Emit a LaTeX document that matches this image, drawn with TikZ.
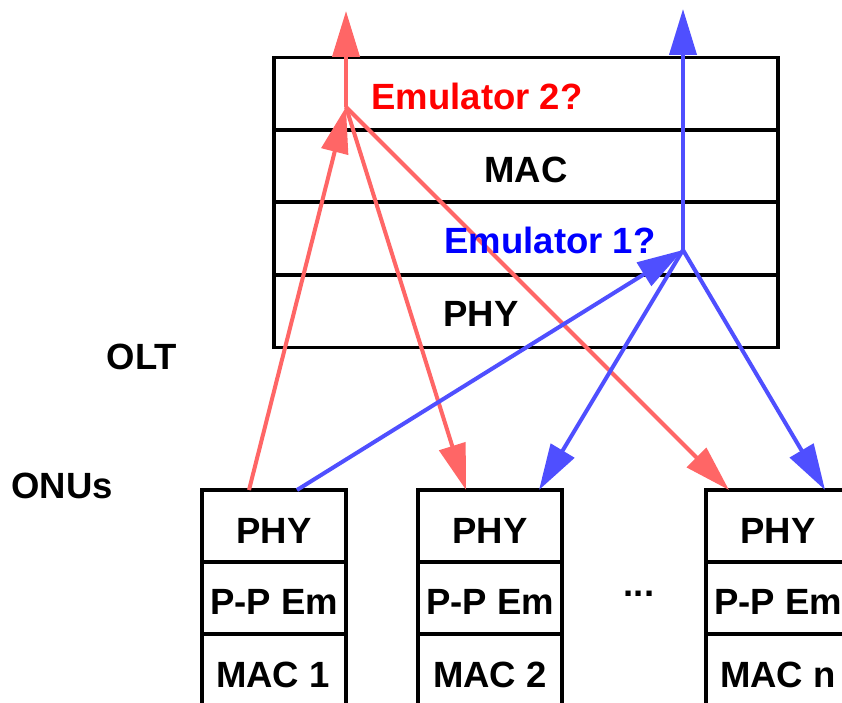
\documentclass[tikz,border=0pt]{standalone}
\usepackage{fontspec}
\setmainfont{Liberation Sans}
\usetikzlibrary{arrows.meta}
\definecolor{lred}{HTML}{FF6666}
\definecolor{lblue}{HTML}{4F4FFF}
\definecolor{tred}{HTML}{FF0000}
\definecolor{tblue}{HTML}{0000FF}
\begin{document}
\begin{tikzpicture}[x=1pt,y=-1pt,
  oltcell/.style={draw=black, line width=3.5pt, minimum width=504pt, minimum height=72.5pt, inner sep=0pt, outer sep=0pt},
  onucell/.style={draw=black, line width=3.5pt, minimum width=144pt, minimum height=72pt, inner sep=0pt, outer sep=0pt},
  lbl/.style={anchor=base, inner sep=0pt, font=\fontsize{36.5}{40}\selectfont\bfseries},
  redarr/.style={draw=lred, line width=4pt, -{Triangle[length=46pt,width=27pt]}},
  bluearr/.style={draw=lblue, line width=4pt, -{Triangle[length=46pt,width=27pt]}}
]
\useasboundingbox (0,0) rectangle (842,703);
\clip (0,0) rectangle (842,703);

% OLT stack
\node[oltcell] (olt1) at (526,94) {};
\node[oltcell] (olt2) at (526,166.5) {};
\node[oltcell] (olt3) at (526,238.5) {};
\node[oltcell] (olt4) at (526,311) {};

% ONU stacks
\node[onucell] (a1) at (274,526) {};
\node[onucell] (a2) at (274,598) {};
\node[onucell] (a3) at (274,670) {};
\node[onucell] (b1) at (490,526) {};
\node[onucell] (b2) at (490,598) {};
\node[onucell] (b3) at (490,670) {};
\node[onucell] (c1) at (778,526) {};
\node[onucell] (c2) at (778,598) {};
\node[onucell] (c3) at (778,670) {};

% junctions and free ends
\coordinate (j2) at (346,107);
\coordinate (j1) at (683,250);
\coordinate (t2) at (346,11);
\coordinate (t1) at (683,9);
\coordinate (ra) at (249,490);
\coordinate (rb) at (466,490);
\coordinate (rc) at (729,490);
\coordinate (ba) at (297,490);
\coordinate (bb) at (539,490);
\coordinate (bc) at (825,490);

% red connectors
\draw[redarr] (j2) -- (t2);
\draw[redarr] (ra) -- (j2);
\draw[redarr] (j2) -- (rb);
\draw[redarr] (j2) -- (rc);

% blue connectors
\draw[bluearr] (j1) -- (t1);
\draw[bluearr] (ba) -- (j1);
\draw[bluearr] (j1) -- (bb);
\draw[bluearr] (j1) -- (bc);

% OLT labels
\node[lbl, text=tred] (e2) at (477,110) {Emulator 2?};
\node[lbl] (mac) at (526,183) {MAC};
\node[lbl, text=tblue] (e1) at (550,253) {Emulator 1?};
\node[lbl] (phy) at (481,326) {PHY};

\node[lbl] (oltl) at (142,369) {OLT};
\node[lbl] (onul) at (62,498) {ONUs};

% ONU labels
\node[lbl] (a1t) at (274,543) {PHY};
\node[lbl] (a2t) at (274,614) {P-P Em};
\node[lbl] (a3t) at (273,687) {MAC 1};
\node[lbl] (b1t) at (490,543) {PHY};
\node[lbl] (b2t) at (490,614) {P-P Em};
\node[lbl] (b3t) at (490,687) {MAC 2};
\node[lbl] (c1t) at (778,543) {PHY};
\node[lbl] (c2t) at (778,614) {P-P Em};
\node[lbl] (c3t) at (778,687) {MAC n};

\node[lbl] (dots) at (639,596) {...};
\end{tikzpicture}
\end{document}
